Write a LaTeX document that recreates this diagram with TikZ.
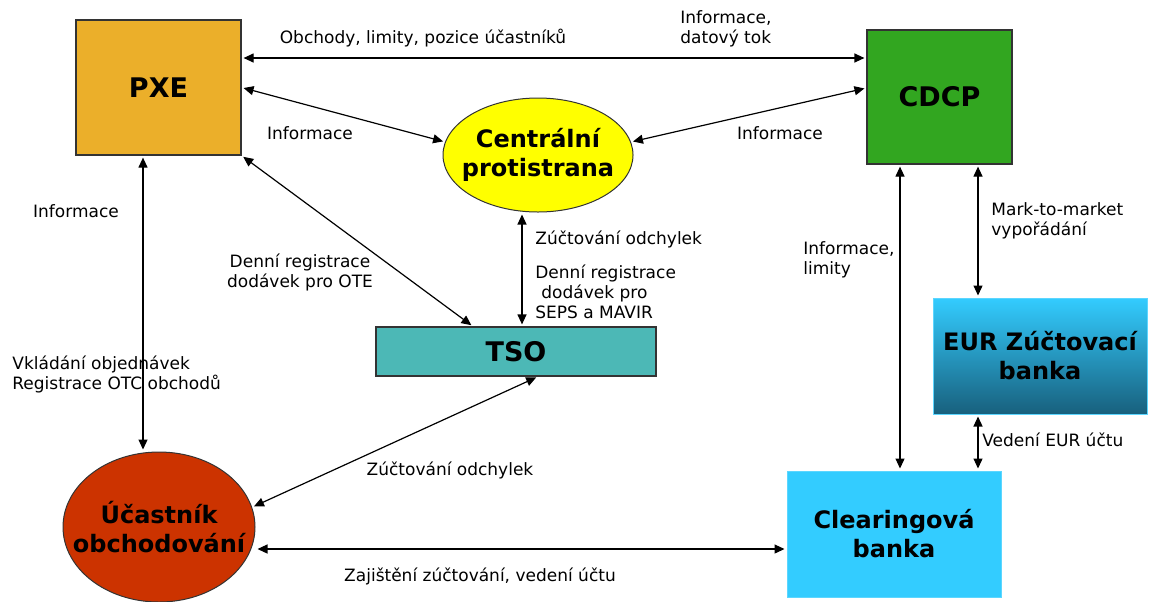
\documentclass[tikz,border=0pt]{standalone}
\usepackage{fontspec}
\setmainfont{DejaVu Sans}
\usepackage{xcolor}
\usepackage{tikz}
\usetikzlibrary{shapes.geometric, arrows.meta, positioning, calc}

\definecolor{pxeorange}{RGB}{235,175,42}
\definecolor{cdcpgreen}{RGB}{50,166,32}
\definecolor{cpyellow}{RGB}{255,255,0}
\definecolor{tsoteal}{RGB}{76,184,182}
\definecolor{bankblue}{RGB}{51,204,255}
\definecolor{eurbottom}{RGB}{24,96,125}
\definecolor{ucred}{RGB}{204,51,0}

\begin{document}
\begin{tikzpicture}[
    x=0.5pt, y=-0.5pt,
    block/.style={rectangle, draw=black!80, line width=0.6pt, inner sep=0pt, align=center, font=\fontsize{13.5}{16}\selectfont\bfseries},
    bankblock/.style={rectangle, draw=bankblue!80, line width=0.5pt, inner sep=0pt, align=center, font=\fontsize{12}{14.5}\selectfont\bfseries},
    oval/.style={ellipse, draw=black!80, line width=0.5pt, inner sep=-10pt, align=center, font=\fontsize{12}{14.5}\selectfont\bfseries},
    arr/.style={{Triangle[length=5pt,width=4.5pt]}-{Triangle[length=5pt,width=4.5pt]}, line width=0.6pt, shorten >=1pt, shorten <=1pt},
    lbl/.style={font=\fontsize{8.5}{10}\selectfont, align=left, inner sep=0pt},
]
\useasboundingbox (0,0) rectangle (1149,601);

% Nodes
\node[block, fill=pxeorange, minimum width=82.5pt, minimum height=67.5pt] (pxe) at (158.5,87.5) {PXE};
\node[block, fill=cdcpgreen, minimum width=72.5pt, minimum height=67pt] (cdcp) at (939.5,97) {CDCP};
\node[oval, fill=cpyellow, minimum width=95pt, minimum height=57pt] (cp) at (538,155) {Centrální\\protistrana};
\node[block, fill=tsoteal, minimum width=140pt, minimum height=24.5pt] (tso) at (516,351.5) {TSO};
\node[bankblock, top color=bankblue, bottom color=eurbottom, minimum width=107pt, minimum height=58pt] (eur) at (1040,356) {EUR Zúčtovací\\banka};
\node[bankblock, fill=bankblue, minimum width=107pt, minimum height=63pt] (cb) at (894,534) {Clearingová\\banka};
\node[oval, fill=ucred, minimum width=96pt, minimum height=75pt] (uc) at (159,527) {Účastník\\obchodování};

% Labels
\node[lbl] (l1) at (423,38) {Obchody, limity, pozice účastníků};
\node[lbl, anchor=west] (l2) at (680,29) {Informace,\\datový tok};
\node[lbl] (l3) at (310,133) {Informace};
\node[lbl] (l4) at (780,133) {Informace};
\node[lbl] (l5) at (76,211) {Informace};
\node[lbl, align=center] (l6) at (300,272) {Denní registrace\\dodávek pro OTE};
\node[lbl, anchor=west] (l7) at (12,374) {Vkládání objednávek\\Registrace OTC obchodů};
\node[lbl, anchor=west] (l8) at (535,239) {Zúčtování odchylek};
\node[lbl, anchor=west] (l9) at (535,292) {Denní registrace\\\hspace*{3pt}dodávek pro\\SEPS a MAVIR};
\node[lbl] (l10) at (450,470) {Zúčtování odchylek};
\node[lbl] (l11) at (480,576) {Zajištění zúčtování, vedení účtu};
\node[lbl, anchor=west] (l12) at (803,260) {Informace,\\limity};
\node[lbl, anchor=west] (l13) at (991,221) {Mark-to-market\\vypořádání};
\node[lbl, anchor=west] (l14) at (982,440) {Vedení EUR účtu};

% Connectors
\draw[arr] ([yshift=14.75pt]pxe.east) -- ([yshift=14.75pt]pxe.east -| cdcp.west);
\draw[arr] (pxe.east) -- (cp.172);
\draw[arr] ([yshift=4.5pt]cdcp.west) -- (cp.8);
\draw[arr] ([xshift=-7.75pt]pxe.south) -- ([xshift=-7.75pt]pxe.south |- uc.north);
\draw[arr] (pxe.south east) -- ([xshift=-21.5pt]tso.north);
\draw[arr] ([xshift=3pt]tso.north |- cp.south) -- ([xshift=3pt]tso.north);
\draw[arr] ([xshift=11pt]tso.south) -- (uc.12);
\draw[arr] ([yshift=-11pt]uc.east) -- ([yshift=-11pt]uc.east -| cb.west);
\draw[arr] ([xshift=-19.75pt]cdcp.south) -- ([xshift=-19.75pt]cdcp.south |- cb.north);
\draw[arr] ([xshift=19.25pt]cdcp.south) -- ([xshift=19.25pt]cdcp.south |- eur.north);
\draw[arr] ([xshift=-31pt]eur.south) -- ([xshift=-31pt]eur.south |- cb.north);

\end{tikzpicture}
\end{document}
